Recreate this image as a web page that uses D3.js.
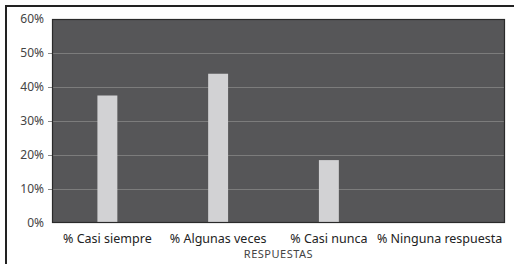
<!DOCTYPE html>
<html>
<head>
<meta charset="utf-8">
<script src="https://cdn.jsdelivr.net/npm/d3@7"></script>
<style>
  body { margin: 0; background: #fff; }
  text { font-family: "Noto Sans", Lato, sans-serif; }
</style>
</head>
<body>
<svg id="chart" width="514" height="264"></svg>
<script>
// Chart data
const categories = ["% Casi siempre", "% Algunas veces", "% Casi nunca", "% Ninguna respuesta"];
const values = [0.375, 0.439, 0.185, 0];
const yTicks = [0, 0.1, 0.2, 0.3, 0.4, 0.5, 0.6];
const xTitle = "RESPUESTAS";

const plot = { left: 52, top: 19, right: 505, bottom: 223 };

const svg = d3.select("#chart");

// outer frame (top and left edges)
svg.append("line").attr("x1", 6).attr("x2", 514).attr("y1", 6).attr("y2", 6)
  .attr("stroke", "#222").attr("stroke-width", 2);
svg.append("line").attr("x1", 6).attr("x2", 6).attr("y1", 5).attr("y2", 264)
  .attr("stroke", "#222").attr("stroke-width", 2);

const x = d3.scaleBand()
  .domain(categories)
  .range([plot.left, 495])
  .paddingInner(0.82)
  .paddingOuter(0.41);

const y = d3.scaleLinear()
  .domain([0, 0.6])
  .range([plot.bottom, plot.top]);

// plot background
svg.append("rect")
  .attr("x", plot.left)
  .attr("y", plot.top)
  .attr("width", plot.right - plot.left)
  .attr("height", plot.bottom - plot.top)
  .attr("fill", "#565658");

// gridlines
svg.append("g")
  .selectAll("line")
  .data(yTicks.filter((d) => d > 0 && d < 0.6))
  .join("line")
  .attr("x1", plot.left)
  .attr("x2", plot.right)
  .attr("y1", (d) => y(d) + 0.5)
  .attr("y2", (d) => y(d) + 0.5)
  .attr("stroke", "#7c7c7c")
  .attr("stroke-width", 1);

// y axis
const yAxis = svg.append("g")
  .attr("transform", `translate(${plot.left},0)`)
  .call(d3.axisLeft(y).tickValues(yTicks).tickFormat(d3.format(".0%")).tickSize(4).tickPadding(5));
yAxis.select(".domain").remove();
yAxis.selectAll(".tick line")
  .attr("stroke", "#888")
  .attr("display", (d) => (d === 0 || d === 0.6 ? "none" : null));
yAxis.selectAll(".tick text")
  .attr("fill", "#444")
  .style("font-size", "12px")
  .attr("x", -8);

// bars
svg.append("g")
  .selectAll("rect")
  .data(values)
  .join("rect")
  .attr("x", (d, i) => x(categories[i]))
  .attr("y", (d) => y(d))
  .attr("width", x.bandwidth())
  .attr("height", (d) => y(0) - y(d))
  .attr("fill", "#d2d2d4");

// plot border
svg.append("rect")
  .attr("x", plot.left + 0.5)
  .attr("y", plot.top + 0.5)
  .attr("width", plot.right - plot.left - 1)
  .attr("height", plot.bottom - plot.top - 1)
  .attr("fill", "none")
  .attr("stroke", "#2a2a2a")
  .attr("stroke-width", 1.2);

// x axis labels
const xAxis = svg.append("g")
  .attr("transform", `translate(0,${plot.bottom})`)
  .call(d3.axisBottom(x).tickSize(0).tickPadding(11));
xAxis.select(".domain").remove();
xAxis.selectAll(".tick text")
  .attr("fill", "#222")
  .style("font-size", "12.5px");

// x axis title
svg.append("text")
  .attr("x", (plot.left + plot.right) / 2)
  .attr("y", 258)
  .attr("text-anchor", "middle")
  .attr("fill", "#444")
  .style("font-size", "11px")
  .style("letter-spacing", "0.5px")
  .text(xTitle);
</script>
</body>
</html>
